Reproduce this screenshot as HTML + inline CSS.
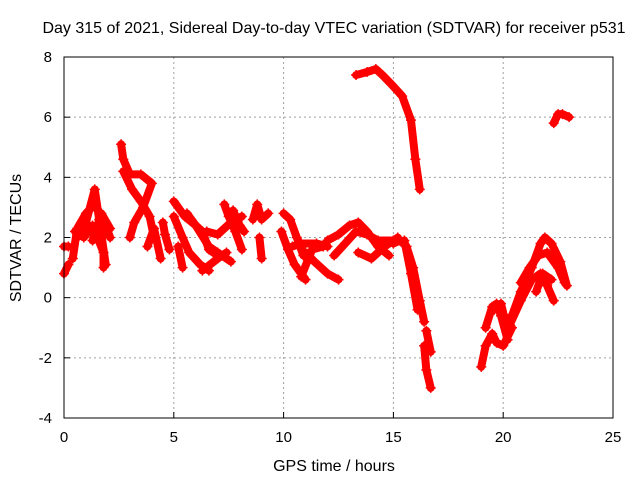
<!DOCTYPE html>
<html><head><meta charset="utf-8"><style>
body{margin:0;background:#fff;}
svg{display:block;font-family:"Liberation Sans",sans-serif;}
</style></head><body>
<svg id="chart" width="640" height="480">
<text x="334" y="33" text-anchor="middle" font-size="16">Day 315 of 2021, Sidereal Day-to-day VTEC variation (SDTVAR) for receiver p531</text>
<text x="334" y="471" text-anchor="middle" font-size="16">GPS time / hours</text>
<text x="0" y="0" transform="translate(21,238) rotate(-90)" text-anchor="middle" font-size="16">SDTVAR / TECUs</text>
<g id="grid"></g><g id="ticks"></g><g id="marks"></g>
<rect x="64" y="57" width="549" height="361" fill="none" stroke="#000" stroke-width="1"/>
</svg>
<script>
const xTicks=[0,5,10,15,20,25];
const yTicks=[-4,-2,0,2,4,6,8];
const tracks=[
[[0,0.8],[0.2,1.1]],
[[0,1.7],[0.2,1.7]],
[[0.4,1.3],[0.6,2.3],[1,2.8],[1.4,3.1],[1.8,2.6],[2.1,2.0]],
[[0.6,2.0],[1,2.5],[1.4,3.6],[1.6,2.6],[1.9,1.1]],
[[0.5,2.2],[0.9,2.0],[1.3,2.4],[1.8,1.5],[1.8,1.0]],
[[1.3,1.9],[1.7,2.8],[2.1,2.3]],
[[2.6,5.1],[2.7,4.6],[3,4.1],[3.5,4.1],[4,3.8],[3.6,3.0],[3.2,2.5],[3,2.0]],
[[2.7,4.2],[3.1,3.6],[3.5,3.2],[3.9,2.7],[4.1,2.0]],
[[3.8,1.7],[4.1,2.3],[4.4,1.3]],
[[4.5,2.5],[4.6,2.1],[4.8,1.6]],
[[5,3.2],[5.5,2.7],[6,2.4],[6.6,1.7],[7,1.5],[7.6,1.2]],
[[5,2.7],[5.4,2.0],[5.7,1.5],[6.2,1.1],[6.6,0.9]],
[[5.2,1.7],[5.4,1.0]],
[[5.6,2.8],[6,2.4],[6.3,2.2],[6.6,1.6],[7,1.4]],
[[6.3,0.9],[7,1.3],[7.4,1.5]],
[[6.5,2.2],[7,2.1],[7.6,2.5],[8.1,2.7]],
[[7.3,3.1],[7.5,2.7],[7.8,2.2],[8.1,1.6]],
[[7.7,2.9],[8,2.4],[8.2,2.2]],
[[8.6,2.6],[8.8,3.1],[9,2.6],[9.3,2.8]],
[[8.9,2.0],[9,1.3]],
[[10,2.8],[10.3,2.6],[10.6,2.0],[10.9,1.4]],
[[9.9,2.2],[10.2,1.6],[10.5,1.1],[11,0.6]],
[[10.4,1.7],[10.8,1.8],[11.5,1.8],[12,1.7]],
[[11,1.5],[11.4,1.2],[12,0.8],[12.5,0.6]],
[[10.8,0.7],[11.3,1.6],[11.8,1.7]],
[[12,1.9],[12.5,2.1],[13,2.4],[13.4,2.5],[13.8,2.2],[14.3,1.7],[14.8,1.4]],
[[12.3,1.4],[12.8,1.8],[13.3,2.2],[13.8,2.1],[14.3,1.9],[15,1.9]],
[[13.4,1.5],[14,1.3],[14.6,1.7],[15.2,2]],
[[15,1.8],[15.3,1.9],[15.6,1.7],[15.9,1.0],[16.2,-0.1],[16.4,-0.8]],
[[15.5,1.9],[15.8,0.8],[16.1,-0.4]],
[[16.5,-1.1],[16.7,-1.8]],
[[16.4,-1.6],[16.5,-2.4],[16.7,-3.0]],
[[13.3,7.4],[13.8,7.5],[14.2,7.6],[14.5,7.4],[14.9,7.1],[15.4,6.7],[15.8,5.9],[16,4.6],[16.2,3.6]],
[[22.3,5.8],[22.5,6.1],[22.7,6.1],[23,6.0]],
[[19,-2.3],[19.2,-1.6],[19.5,-1.2],[19.7,-1.5],[20,-1.6],[20.4,-1.0]],
[[19.2,-1.0],[19.5,-0.3],[19.7,-0.2],[19.9,-0.6],[20.2,-1.4]],
[[19.6,-0.4],[19.9,-0.2],[20.1,-0.8],[20.4,-0.6],[20.8,0.2],[21.3,1.0],[21.7,1.8],[21.9,2.0],[22.2,1.8],[22.6,1.2],[22.9,0.4]],
[[20.3,-0.9],[20.8,-0.1],[21.3,0.6],[21.7,0.8],[22,0.4],[22.3,-0.1]],
[[20.8,0.5],[21.2,1.0],[21.6,1.4],[22,1.5],[22.5,1.0],[22.8,0.5]],
[[21.5,0.2],[21.8,0.8],[22.2,0.6]]
];
const NS="http://www.w3.org/2000/svg";
function X(h){return 64+h*(549/25);}
function Y(v){return 418-(v+4)*(361/12);}
const grid=document.getElementById('grid'),ticks=document.getElementById('ticks'),marks=document.getElementById('marks');
function mk(t,a,p){const e=document.createElementNS(NS,t);for(const k in a)e.setAttribute(k,a[k]);p.appendChild(e);return e;}
xTicks.forEach(t=>{
  if(t>0&&t<25){const g=mk('line',{x1:X(t),x2:X(t),y1:57,y2:418,stroke:'#a0a0a0','stroke-dasharray':'2,3'},grid);
  
  }
  const l=mk('text',{x:X(t),y:442,'text-anchor':'middle','font-size':'15'},ticks);l.textContent=t;
  
  
  mk('line',{x1:X(t),x2:X(t),y1:418,y2:412,stroke:'#000'},ticks);
});
yTicks.forEach(t=>{
  if(t>-4&&t<8){const g=mk('line',{x1:64,x2:613,y1:Y(t),y2:Y(t),stroke:'#a0a0a0','stroke-dasharray':'2,3'},grid);
  
  }
  const l=mk('text',{x:52,y:Y(t)+5,'text-anchor':'end','font-size':'15'},ticks);l.textContent=t;
  
  
  mk('line',{x1:64,x2:70,y1:Y(t),y2:Y(t),stroke:'#000'},ticks);
});
tracks.forEach(tr=>{
  const pl=mk('polyline',{points:tr.map(p=>X(p[0])+','+Y(p[1])).join(' '),fill:'none',stroke:'#f00','stroke-width':'8','stroke-linejoin':'round','stroke-linecap':'round'},marks);
  
  
  tr.forEach(p=>{
    const x=X(p[0]),y=Y(p[1]);
    const m=mk('path',{d:`M${x-5},${y}H${x+5}M${x},${y-5}V${y+5}`,stroke:'#f00','stroke-width':'1.5'},marks);
    
    
  });
});
</script>
</body></html>
